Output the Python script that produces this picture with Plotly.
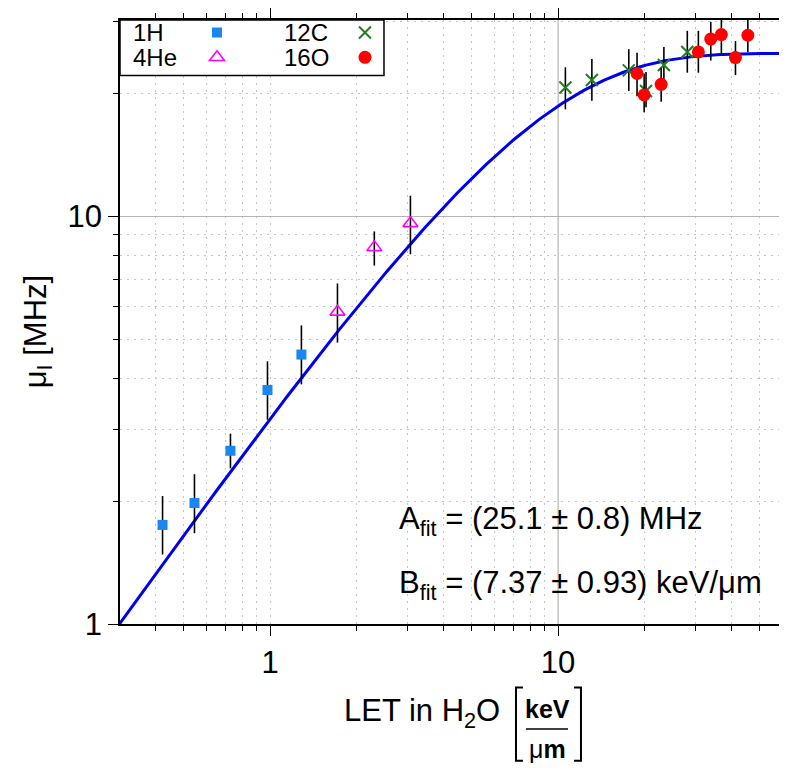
import numpy as np
import plotly.graph_objects as go

# measured data: LET [keV/um], mu_I [MHz], error band lower/upper
h_let = [0.423, 0.546, 0.728, 0.979, 1.284]
h_mu = [1.75, 1.98, 2.66, 3.75, 4.58]
h_lo = [1.48, 1.67, 2.41, 3.17, 3.87]
h_hi = [2.06, 2.33, 2.93, 4.41, 5.40]

he_let = [1.713, 2.30, 3.07]
he_mu = [5.83, 8.39, 9.61]
he_lo = [4.90, 7.57, 8.07]
he_hi = [6.84, 9.18, 11.23]

c_let = [10.6, 13.1, 17.6, 20.2, 23.3, 28.1]
c_mu = [20.7, 21.6, 22.8, 20.3, 23.5, 25.3]
c_lo = [18.3, 19.2, 20.3, 18.5, 21.0, 22.5]
c_hi = [23.2, 24.3, 25.7, 22.6, 26.0, 28.5]

o_let = [18.8, 19.9, 22.8, 30.7, 33.9, 36.9, 41.3, 45.6]
o_mu = [22.4, 19.85, 21.07, 25.3, 27.2, 27.9, 24.5, 27.8]
o_lo = [19.7, 18.0, 19.1, 22.5, 24.1, 24.9, 22.2, 25.3]
o_hi = [25.2, 22.4, 23.1, 28.5, 30.0, 31.0, 26.9, 31.0]

# fit parameters (mu = A * (1 - exp(-LET/B)))
A_FIT = 25.1
B_FIT = 7.37

FONT = "Liberation Sans, Arial, sans-serif"


def errs(mu, lo, hi):
    plus = [h - m for m, h in zip(mu, hi)]
    minus = [m - l for m, l in zip(mu, lo)]
    return dict(type="data", symmetric=False, array=plus, arrayminus=minus,
                color="black", thickness=1.6, width=0)


fig = go.Figure()

# fit curve
let_grid = np.logspace(np.log10(0.3), np.log10(65), 300)
fig.add_trace(go.Scatter(x=let_grid, y=A_FIT * (1 - np.exp(-let_grid / B_FIT)),
                         mode="lines", line=dict(color="rgb(0,0,240)", width=3),
                         showlegend=False, hoverinfo="skip"))

# legend keys sit right of the labels (labels are annotations below)
fig.add_trace(go.Scatter(x=h_let, y=h_mu, mode="markers", name="",
                         error_y=errs(h_mu, h_lo, h_hi), legend="legend",
                         marker=dict(symbol="square", size=10, color="#1a86f0")))
fig.add_trace(go.Scatter(x=he_let, y=he_mu, mode="markers", name="",
                         error_y=errs(he_mu, he_lo, he_hi), legend="legend2",
                         marker=dict(symbol="triangle-up-open", size=13,
                                     line=dict(color="#ff00ff", width=1.6), color="#ff00ff")))
fig.add_trace(go.Scatter(x=c_let, y=c_mu, mode="markers", name="",
                         error_y=errs(c_mu, c_lo, c_hi), legend="legend3",
                         marker=dict(symbol="x-thin-open", size=12,
                                     line=dict(color="#1f7f1f", width=2), color="#1f7f1f")))
fig.add_trace(go.Scatter(x=o_let, y=o_mu, mode="markers", name="",
                         error_y=errs(o_mu, o_lo, o_hi), legend="legend4",
                         marker=dict(symbol="circle", size=13, color="#ff0000")))

minor_grid = dict(ticks="outside", ticklen=5, tickcolor="black", tickwidth=1.2,
                  showgrid=True, gridcolor="#c4c4c4", griddash="2px,5px", gridwidth=1)

fig.update_xaxes(type="log", range=[np.log10(0.301), np.log10(58.5)],
                 tickvals=[1, 10], ticktext=["1", "10"],
                 ticks="outside", ticklen=10, tickwidth=1.4, tickcolor="black",
                 showline=True, linecolor="black", linewidth=1.5, mirror="ticks",
                 showgrid=False, zeroline=False,
                 minor=dict(tickvals=[0.4, 0.5, 0.6, 0.7, 0.8, 0.9, 1,
                                      2, 3, 4, 5, 6, 7, 8, 9, 20, 30, 40, 50],
                            **minor_grid),
                 tickfont=dict(size=31, color="black", family=FONT))
fig.update_yaxes(type="log", range=[0, np.log10(30.3)],
                 tickvals=[1, 10], ticktext=["1", "10"],
                 ticks="outside", ticklen=10, tickwidth=1.4, tickcolor="black",
                 showline=True, linecolor="black", linewidth=1.5, mirror=False,
                 showgrid=True, gridcolor="#b4b4b4", gridwidth=1.2, zeroline=False,
                 minor=dict(tickvals=[2, 3, 4, 5, 6, 7, 8, 9, 20, 30], **minor_grid),
                 tickfont=dict(size=31, color="black", family=FONT))

# solid grid line at LET = 10
fig.add_shape(type="line", xref="x", yref="paper", x0=10, x1=10, y0=0, y1=1,
              line=dict(color="#b4b4b4", width=1.2), layer="below")

big = dict(size=31, color="black", family=FONT)
small = dict(size=25, color="black", family=FONT)
leg_font = dict(size=24, color="black", family=FONT)

annots = [
    dict(text="A<sub>fit</sub> = (25.1 ± 0.8) MHz", x=0.4203, y=0.1708,
         xanchor="left", yanchor="middle", font=big),
    dict(text="B<sub>fit</sub> = (7.37 ± 0.93) keV/μm", x=0.4203, y=0.064,
         xanchor="left", yanchor="middle", font=big),
    dict(text="μ<sub>I</sub> [MHz]", x=-0.1244, y=0.483, textangle=-90,
         xanchor="center", yanchor="middle", font=big),
    dict(text="LET in H<sub>2</sub>O", x=0.5797, y=-0.1478,
         xanchor="right", yanchor="middle", font=big),
    dict(text="<b>keV</b>", x=0.6487, y=-0.1412, xanchor="center",
         yanchor="middle", font=small),
    dict(text="μ<b>m</b>", x=0.6487, y=-0.2069, xanchor="center",
         yanchor="middle", font=small),
    dict(text="1H", x=0.0167, y=0.9787, xanchor="left", yanchor="middle", font=leg_font),
    dict(text="4He", x=0.0167, y=0.9376, xanchor="left", yanchor="middle", font=leg_font),
    dict(text="12C", x=0.2458, y=0.9787, xanchor="left", yanchor="middle", font=leg_font),
    dict(text="16O", x=0.2458, y=0.9376, xanchor="left", yanchor="middle", font=leg_font),
]
for a in annots:
    fig.add_annotation(xref="paper", yref="paper", showarrow=False, **a)

# fraction bar and brackets of the unit
fig.add_shape(type="line", xref="paper", yref="paper", x0=0.6161, x1=0.6798,
              y0=-0.174, y1=-0.174, line=dict(color="black", width=1.5))
fig.add_shape(type="path", xref="paper", yref="paper",
              path="M 0.6115 -0.1051 L 0.6009 -0.1051 L 0.6009 -0.2266 L 0.6115 -0.2266",
              line=dict(color="black", width=2))
fig.add_shape(type="path", xref="paper", yref="paper",
              path="M 0.6889 -0.1051 L 0.6995 -0.1051 L 0.6995 -0.2266 L 0.6889 -0.2266",
              line=dict(color="black", width=2))

# legend frame
fig.add_shape(type="rect", xref="paper", yref="paper", x0=0, x1=0.4006, y0=0.908, y1=1,
              fillcolor="white", line=dict(color="black", width=1.5), layer="above")

leg = dict(yanchor="middle", xanchor="left", bgcolor="rgba(0,0,0,0)",
           borderwidth=0, font=leg_font, itemwidth=30)

fig.update_layout(
    width=771, height=755,
    margin=dict(l=112, r=0, t=7, b=139),
    plot_bgcolor="white", paper_bgcolor="white",
    font=dict(family=FONT, color="black"),
    legend=dict(x=0.1168, y=0.9787, **leg),
    legend2=dict(x=0.1168, y=0.9376, **leg),
    legend3=dict(x=0.3414, y=0.9787, **leg),
    legend4=dict(x=0.3414, y=0.9376, **leg),
)

fig.write_html("out.html")
